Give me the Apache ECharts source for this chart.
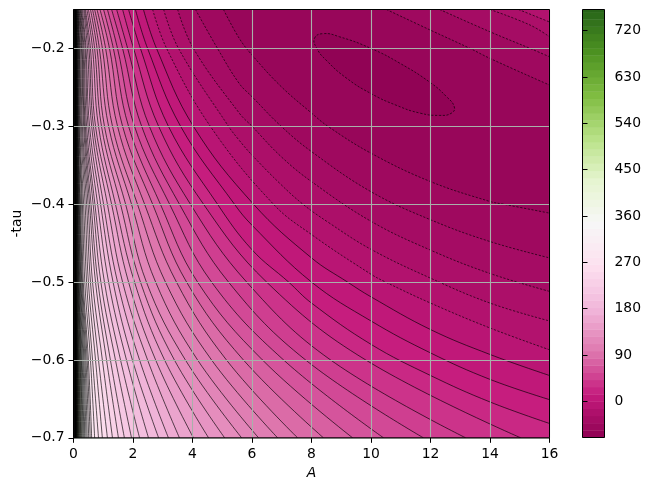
<!DOCTYPE html>
<html>
<head>
<meta charset="utf-8">
<script src="https://cdn.jsdelivr.net/npm/echarts@6/dist/echarts.min.js"></script>
<style>html,body{margin:0;padding:0;background:#fff}#c{width:650px;height:491px}</style>
</head>
<body>
<div id="c"></div>
<script>
const xTicks = [0,2,4,6,8,10,12,14,16];
const yTicks = [-0.7,-0.6,-0.5,-0.4,-0.3,-0.2];
const barTicks = [0,90,180,270,360,450,540,630,720];
const barLevels = [-70,-56,-42,-28,-14,0,14,28,42,56,70,84,98,112,126,140,154,168,182,196,210,224,238,252,266,280,294,308,322,336,350,364,378,392,406,420,434,448,462,476,490,504,518,532,546,560,574,588,602,616,630,644,658,672,686,700,714,728,742,756,761];
const paletteStops = ['#8e0152','#c51b7d','#de77ae','#f1b6da','#fde0ef','#f7f7f7','#e6f5d0','#b8e186','#7fbc41','#4d9221','#276419'];
// value of contour 1, 2, 3 ...
const contourLevels = [-60,-50,-40,-30,-20,-10,0,10,20,30,40,50,60,70,80,90,100,110,120,130,140,150,160,170,180,190,200,210,220,230,240,250,260,270,280,290,300,310,320,330,340,350,360,370,380,390,400,410,420,430,440,450,460,470,480,490,500,510,520,530,540,550,560,570,580,590,600,610,620,630,640,650,660,670,680,690,700,710,720,730,740];

// innermost closed contour, [A, tau]
const ellipse = [[8.10,-0.187],[8.38,-0.181],[8.94,-0.185],[10,-0.2],[10.97,-0.219],[12,-0.244],[12.54,-0.262],[12.8,-0.275],[12.71,-0.283],[12.31,-0.286],[11.64,-0.283],[10.85,-0.273],[10,-0.258],[9.17,-0.238],[8.49,-0.215],[8.18,-0.2]];

// branches in the upper right corner, contour number -> [A, tau]
const upperBranches = {
  2: [[10.52,-0.15],[12,-0.1765],[13.33,-0.2],[14,-0.2128],[16,-0.247]],
  3: [[12.31,-0.15],[14,-0.1786],[15.35,-0.2],[16,-0.2107]],
  4: [[14,-0.15],[15.35,-0.17],[16,-0.185]],
  5: [[14.96,-0.15],[16,-0.166]]
};

// contours 2..9, entering through the top edge and leaving through the right edge
const rightExit = {
  2: [[5.04,-0.15],[5.57,-0.187],[6,-0.2085],[6.98,-0.249],[8,-0.283],[8.55,-0.3],[10,-0.3346],[12,-0.371],[14,-0.3966],[14.45,-0.4],[16,-0.4115]],
  3: [[4.10,-0.15],[4.84,-0.2],[5.57,-0.245],[6,-0.262],[6.98,-0.3],[8,-0.3325],[10,-0.384],[12,-0.42],[14,-0.448],[16,-0.469]],
  4: [[3.5,-0.15],[4.03,-0.2],[5.57,-0.283],[6,-0.3],[6.98,-0.339],[8,-0.371],[10,-0.422],[12,-0.459],[14,-0.489],[16,-0.512]],
  5: [[3.03,-0.15],[3.53,-0.2],[5.21,-0.3],[5.57,-0.318],[6,-0.337],[6.98,-0.375],[7.71,-0.4],[8.55,-0.423],[10,-0.458],[12,-0.495],[14,-0.527],[16,-0.55]],
  6: [[2.66,-0.15],[3.13,-0.2],[4.6,-0.3],[6.72,-0.4],[8,-0.439],[10,-0.49],[10.49,-0.5],[12,-0.527],[14,-0.559],[16,-0.587]],
  7: [[2.35,-0.15],[2.79,-0.2],[4.03,-0.3],[6.05,-0.4],[8,-0.469],[9.21,-0.5],[10,-0.519],[12,-0.561],[14,-0.593],[16,-0.62]],
  8: [[2.08,-0.15],[2.49,-0.2],[3.6,-0.3],[5.41,-0.4],[6,-0.427],[8,-0.5],[10,-0.55],[12,-0.591],[14,-0.625],[16,-0.651]],
  9: [[1.85,-0.15],[2.25,-0.2],[3.19,-0.3],[4.84,-0.4],[6,-0.4585],[7.23,-0.5],[8,-0.527],[10,-0.58],[12,-0.62],[14,-0.654],[16,-0.6816]]
};

// contours 10..81: A where each contour crosses these tau rows
const tauRows = [-0.15,-0.2,-0.3,-0.4,-0.5,-0.6,-0.7];
const firstRowContour = 10;
const rowCrossings = [
 [1.65,2.02,2.86,4.37,6.49,9.82,15.03],
 [1.45,1.82,2.55,3.93,5.82,8.64,13.18],
 [1.28,1.65,2.29,3.56,5.21,7.80,11.76],
 [1.14,1.48,2.05,3.23,4.64,7.06,10.42],
 [1.01,1.34,1.85,2.92,4.17,6.35,9.38],
 [0.89,1.21,1.65,2.66,3.80,5.71,8.40],
 [0.79,1.08,1.48,2.39,3.46,5.14,7.53],
 [0.71,0.97,1.31,2.15,3.09,4.64,6.86],
 [0.64,0.87,1.18,1.95,2.76,4.17,6.22],
 [0.57,0.79,1.04,1.75,2.45,3.76,5.65],
 [0.50,0.71,0.94,1.58,2.25,3.39,5.08],
 [0.45,0.64,0.84,1.41,2.05,3.06,4.54],
 [0.40,0.57,0.74,1.28,1.85,2.76,4.03],
 [0.37,0.52,0.67,1.14,1.65,2.49,3.56],
 [0.34,0.47,0.61,1.01,1.48,2.22,3.19],
 [0.30,0.42,0.54,0.91,1.33,1.98,2.86],
 [0.27,0.39,0.49,0.81,1.18,1.78,2.52],
 [0.25,0.35,0.44,0.72,1.04,1.58,2.22],
 [0.23,0.32,0.40,0.66,0.92,1.41,1.95],
 [0.21,0.29,0.37,0.59,0.82,1.24,1.71],
 [0.19,0.27,0.34,0.54,0.74,1.11,1.51],
 [0.175,0.24,0.30,0.49,0.64,0.97,1.31],
 [0.16,0.21,0.27,0.44,0.57,0.84,1.14],
 [0.15,0.195,0.24,0.39,0.50,0.74,0.97],
 [0.135,0.18,0.21,0.34,0.44,0.64,0.84],
 [0.125,0.165,0.19,0.30,0.38,0.57,0.71],
 [0.115,0.15,0.175,0.27,0.33,0.50,0.61],
 [0.105,0.135,0.155,0.235,0.30,0.46,0.56],
 [0.097,0.125,0.145,0.215,0.275,0.42,0.51],
 [0.09,0.115,0.135,0.195,0.25,0.385,0.46],
 [0.083,0.105,0.125,0.18,0.23,0.35,0.42],
 [0.076,0.097,0.115,0.165,0.21,0.32,0.38],
 [0.07,0.09,0.105,0.15,0.19,0.29,0.35],
 [0.065,0.083,0.097,0.14,0.175,0.265,0.32],
 [0.06,0.076,0.09,0.13,0.16,0.245,0.29],
 [0.055,0.07,0.082,0.12,0.147,0.225,0.265],
 [0.05,0.064,0.075,0.11,0.134,0.205,0.24],
 [0.046,0.058,0.069,0.10,0.122,0.185,0.22],
 [0.042,0.053,0.063,0.092,0.11,0.17,0.20],
 [0.038,0.048,0.057,0.083,0.10,0.155,0.18],
 [0.034,0.044,0.052,0.076,0.092,0.14,0.165],
 [0.031,0.04,0.047,0.069,0.084,0.13,0.15],
 [0.029,0.037,0.044,0.064,0.078,0.12,0.14],
 [0.026,0.033,0.039,0.058,0.07,0.108,0.125],
 [0.024,0.03,0.036,0.053,0.065,0.10,0.115],
 [0.022,0.028,0.033,0.049,0.059,0.091,0.105],
 [0.02,0.026,0.03,0.045,0.054,0.083,0.095],
 [0.019,0.024,0.028,0.042,0.05,0.08,0.09],
 [0.018,0.023,0.027,0.04,0.048,0.07,0.08],
 [0.016,0.02,0.024,0.035,0.042,0.062,0.07],
 [0.015,0.019,0.023,0.033,0.039,0.058,0.065],
 [0.014,0.018,0.022,0.031,0.036,0.055,0.06],
 [0.013,0.016,0.02,0.029,0.033,0.05,0.055],
 [0.012,0.015,0.018,0.027,0.03,0.046,0.05],
 [0.011,0.014,0.017,0.024,0.027,0.042,0.046],
 [0.01,0.013,0.015,0.022,0.025,0.039,0.042],
 [0.009,0.012,0.014,0.02,0.023,0.035,0.038],
 [0.0085,0.011,0.013,0.018,0.021,0.031,0.034],
 [0.0075,0.01,0.012,0.016,0.019,0.028,0.03],
 [0.0067,0.009,0.011,0.014,0.017,0.025,0.027],
 [0.006,0.008,0.01,0.013,0.015,0.022,0.024],
 [0.0055,0.0075,0.009,0.012,0.014,0.019,0.021],
 [0.005,0.0065,0.0085,0.0105,0.012,0.017,0.018],
 [0.0045,0.0058,0.0072,0.0093,0.0105,0.0147,0.016],
 [0.004,0.005,0.0065,0.0081,0.0091,0.0129,0.014],
 [0.0034,0.0043,0.0054,0.007,0.0078,0.011,0.012],
 [0.0028,0.0036,0.0045,0.0058,0.0065,0.0092,0.01],
 [0.0022,0.0029,0.0036,0.0046,0.0052,0.0074,0.008],
 [0.0017,0.0022,0.0027,0.0035,0.0039,0.0055,0.006],
 [0.0014,0.0018,0.0023,0.0029,0.0033,0.0046,0.005],
 [0.0011,0.0014,0.0018,0.0023,0.0026,0.0037,0.004],
 [0.0008,0.0011,0.0014,0.0017,0.002,0.0028,0.003]
];

const TOP = -0.15, BOTTOM = -0.7, XMAX = 16;
const FONT = '"DejaVu Sans"';
const FS = 13.9;
const GRID = '#a9b0aa';
const VMIN = barLevels[0], VMAX = barLevels[barLevels.length-1];

function hex(c){return [1,3,5].map(i=>parseInt(c.substr(i,2),16));}
function colorOf(v){
  const n = (v-VMIN)/(VMAX-VMIN);
  const p = Math.min(0.9999,Math.max(0,n))*(paletteStops.length-1);
  const a = hex(paletteStops[Math.floor(p)]), b = hex(paletteStops[Math.floor(p)+1]), t = p-Math.floor(p);
  return 'rgb('+a.map((c,j)=>Math.round(c+(b[j]-c)*t)).join(',')+')';
}
// colour of the band just above contour number k
function bandAbove(k){
  const lo = contourLevels[k-1];
  const hi = k < contourLevels.length ? contourLevels[k] : VMAX;
  return colorOf((lo+hi)/2);
}

const curves = {};
Object.keys(rightExit).forEach(k=>{curves[k]=rightExit[k];});
rowCrossings.forEach((row,i)=>{curves[firstRowContour+i]=row.map((a,j)=>[a,tauRows[j]]);});

const series = [];
function fill(data,color,origin){
  series.push({type:'line',xAxisIndex:0,yAxisIndex:0,data:data,smooth:0.4,showSymbol:false,symbol:'none',silent:true,animation:false,z:2,
    lineStyle:{width:0,color:color},itemStyle:{color:color},areaStyle:{color:color,opacity:1,origin:origin}});
}
function stroke(data,dashed){
  series.push({type:'line',xAxisIndex:0,yAxisIndex:0,data:data,smooth:0.4,showSymbol:false,symbol:'none',silent:true,animation:false,z:3,
    lineStyle:{width:0.65,color:'#000',type:dashed?[2.2,1.6]:'solid'},itemStyle:{color:'#000'}});
}
// band between contours 1 and 2 covers the whole plot first
fill([[0,TOP],[XMAX,TOP]],bandAbove(1),'start');
series.push({type:'custom',xAxisIndex:0,yAxisIndex:0,data:[ellipse[0]],silent:true,animation:false,z:3,
  renderItem:function(p,api){
    return {type:'polygon',shape:{points:ellipse.map(q=>api.coord(q)),smooth:0.5},
      style:{fill:colorOf(contourLevels[0]-5),stroke:'#000',lineWidth:0.65,lineDash:[2.2,1.6]}};
  }});
const keys = Object.keys(curves).map(Number).sort((a,b)=>a-b);
keys.forEach(k=>{
  const c = curves[k], col = bandAbove(k);
  fill([[0,TOP],[c[0][0]-0.0002,TOP]].concat(c),col,'start');
  if(upperBranches[k]) fill(upperBranches[k],col,'end');
});
keys.forEach(k=>{
  const dashed = contourLevels[k-1] < 0;
  stroke(curves[k],dashed);
  if(upperBranches[k]) stroke(upperBranches[k],true);
});
// colour bar
series.push({type:'custom',xAxisIndex:1,yAxisIndex:1,silent:true,animation:false,z:2,
  data:barLevels.slice(0,-1).map((v,i)=>[0,v,barLevels[i+1]]),
  renderItem:function(p,api){
    const a = api.coord([0,api.value(2)]), b = api.coord([1,api.value(1)]);
    return {type:'rect',shape:{x:a[0],y:a[1],width:b[0]-a[0],height:b[1]-a[1]+0.4},style:{fill:colorOf((api.value(1)+api.value(2))/2)}};
  }});

const chart = echarts.init(document.getElementById('c'),null,{renderer:'canvas'});
const lab = {fontFamily:FONT,fontSize:FS,color:'#000'};
chart.setOption({
  animation:false,
  backgroundColor:'#fff',
  grid:[
    {left:73.5,top:9.5,width:476,height:428.3,show:true,z:6,backgroundColor:'transparent',borderColor:'#000',borderWidth:1,outerBoundsMode:'none',containLabel:false},
    {left:582.5,top:9.5,width:22,height:428,show:true,z:6,backgroundColor:'transparent',borderColor:'#000',borderWidth:1,outerBoundsMode:'none',containLabel:false}
  ],
  xAxis:[
    {type:'value',gridIndex:0,min:0,max:XMAX,interval:2,z:5,name:'A',nameLocation:'middle',nameGap:28,
     nameTextStyle:{fontFamily:FONT,fontSize:FS,fontStyle:'italic',color:'#000'},
     axisLine:{show:false},axisTick:{show:true,length:5,lineStyle:{color:'#000',width:1}},
     axisLabel:Object.assign({margin:10,hideOverlap:false,formatter:v=>String(v)},lab),
     splitLine:{show:true,lineStyle:{color:GRID,width:1.1}}},
    {type:'value',gridIndex:1,min:0,max:1,show:false}
  ],
  yAxis:[
    {type:'value',gridIndex:0,min:BOTTOM,max:TOP,interval:0.1,z:5,name:'-tau',nameLocation:'middle',nameGap:49,nameRotate:90,nameMoveOverlap:false,
     nameTextStyle:{fontFamily:FONT,fontSize:FS,color:'#000'},
     axisLine:{show:false},axisTick:{show:true,length:5,lineStyle:{color:'#000',width:1},customValues:yTicks},
     axisLabel:Object.assign({margin:9,customValues:yTicks,formatter:v=>'\u2212'+Math.abs(v).toFixed(1)},lab),
     splitLine:{show:true,lineStyle:{color:GRID,width:1.1}}},
    {type:'value',gridIndex:1,min:VMIN,max:VMAX,position:'right',z:5,
     axisLine:{show:false},axisTick:{show:true,length:5,lineStyle:{color:'#000',width:1},customValues:barTicks},
     axisLabel:Object.assign({margin:10,customValues:barTicks,formatter:v=>String(v)},lab),
     splitLine:{show:false}}
  ],
  series:series
});
</script>
</body>
</html>
